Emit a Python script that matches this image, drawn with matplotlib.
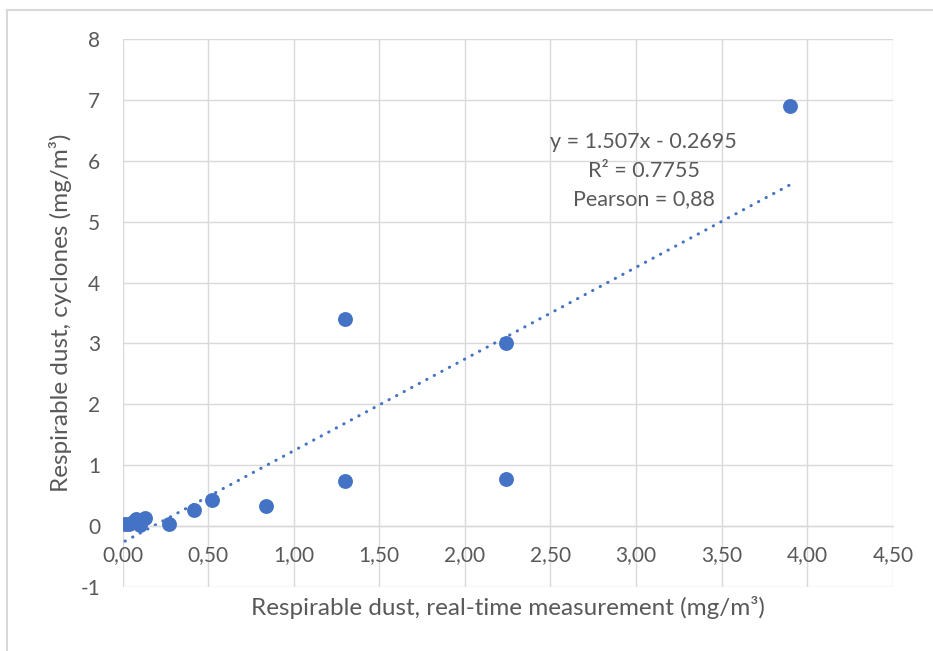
import numpy as np
import matplotlib
matplotlib.use('Agg')
from matplotlib import pyplot as plt
from matplotlib.lines import Line2D

plt.rcParams['font.family'] = ['Lato', 'DejaVu Sans']
plt.rcParams['axes.unicode_minus'] = False

# real-time measurement (mg/m3) vs cyclones (mg/m3)
real_time = [0.015, 0.04, 0.06, 0.08, 0.10, 0.13, 0.27, 0.42, 0.52, 0.84,
             1.30, 1.30, 2.24, 2.24, 3.90]
cyclones = [0.03, 0.04, 0.07, 0.11, 0.02, 0.14, 0.03, 0.26, 0.43, 0.33,
            3.40, 0.74, 3.00, 0.78, 6.90]

slope = 1.507
intercept = -0.2695
eq_lines = ['y = 1.507x - 0.2695', 'R² = 0.7755', 'Pearson = 0,88']

xticks = [0, 0.5, 1, 1.5, 2, 2.5, 3, 3.5, 4, 4.5]
yticks = [-1, 0, 1, 2, 3, 4, 5, 6, 7, 8]

blue = '#4472C4'
grey = '#D9D9D9'
txt = '#595959'

fig = plt.figure(figsize=(9.33, 6.51), dpi=100)
ax = fig.add_axes([0.1313, 0.0983, 0.957 - 0.1313, 0.940 - 0.0983])

ax.set_xlim(0, 4.5)
ax.set_ylim(-1, 8)
ax.set_xticks(xticks)
ax.set_yticks(yticks)
ax.set_xticklabels([('%.2f' % v).replace('.', ',') for v in xticks])
ax.grid(True, color=grey, linewidth=1.0)
ax.set_axisbelow(True)
for s in ['top', 'right', 'left']:
    ax.spines[s].set_visible(False)
ax.spines['bottom'].set_position(('data', 0))
ax.spines['bottom'].set_color(grey)
ax.spines['bottom'].set_linewidth(1.0)
ax.tick_params(length=0, labelsize=15, labelcolor=txt)
ax.tick_params(axis='x', pad=14)
ax.tick_params(axis='y', pad=16)

# trendline
xs = np.array([min(real_time), max(real_time)])
ax.plot(xs, slope * xs + intercept, color=blue, linewidth=2.2,
        linestyle=(0, (0.1, 2.7)), dash_capstyle='round', zorder=2)

ax.scatter(real_time, cyclones, s=115, color=blue, zorder=3, linewidths=0)

ax.text(3.045, 5.84, '\n'.join(eq_lines), ha='center', va='center',
        fontsize=15.5, color=txt, linespacing=1.55)

ax.set_xlabel('Respirable dust, real-time measurement (mg/m³)', fontsize=17.5,
              color=txt)
ax.set_ylabel('Respirable dust, cyclones (mg/m³)', fontsize=17.5, color=txt)
ax.xaxis.label.set_va('center')
ax.xaxis.set_label_coords(0.5, -0.0365)
ax.yaxis.label.set_va('center')
ax.yaxis.set_label_coords(-0.081, 0.5)

# outer chart frame
fig.add_artist(Line2D([7 / 933, 1], [1 - 10 / 651, 1 - 10 / 651],
                      color=grey, linewidth=1.5))
fig.add_artist(Line2D([7 / 933, 7 / 933], [0, 1 - 10 / 651],
                      color=grey, linewidth=1.5))

plt.savefig('out.png', dpi=100)
